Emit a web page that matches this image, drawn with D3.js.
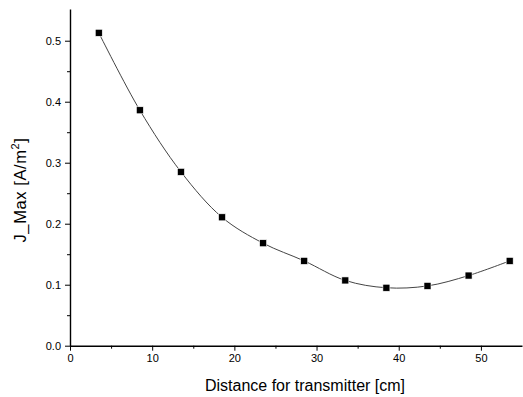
<!DOCTYPE html>
<html lang="en">
  <head>
    <meta charset="utf-8">
    <title>J_Max vs distance</title>
    <style>
      body { margin: 0; background: #fff; }
      svg { display: block; font-family: "Liberation Sans", Arial, sans-serif; }
    </style>
  </head>
  <body>
    <svg width="523" height="397"></svg>
    <script src="https://d3js.org/d3.v7.min.js"></script>
    <script>
      // values
      const distance = [3.5, 8.5, 13.5, 18.5, 23.5, 28.5, 33.5, 38.5, 43.5, 48.5, 53.5];
      const jMax = [0.513, 0.386, 0.285, 0.2105, 0.168, 0.139, 0.107, 0.095, 0.098, 0.115, 0.139];
      const xTicks = [0, 10, 20, 30, 40, 50];
      const yTicks = [0.0, 0.1, 0.2, 0.3, 0.4, 0.5];

      const points = distance.map((d, i) => ({ x: d, y: jMax[i] }));

      const svg = d3.select("svg");
      const x = d3.scaleLinear().domain([0, 55]).range([70, 522]);
      const y = d3.scaleLinear().domain([0, 0.552]).range([345.7, 9]);

      // x axis
      const xAxis = svg.append("g").attr("transform", "translate(0,345.7)");
      xAxis.append("g")
          .call(d3.axisBottom(x).tickValues(d3.range(5, 55, 10)).tickSize(3).tickFormat(""))
          .call(g => g.select(".domain").remove());
      xAxis.append("g")
          .call(d3.axisBottom(x).tickValues(xTicks).tickSize(5).tickSizeOuter(0).tickPadding(4).tickFormat(d3.format("d")))
          .call(g => g.select(".domain").attr("stroke-width", 1.4))
          .call(g => g.selectAll("text").attr("font-size", 11).attr("fill", "#000").attr("font-family", "Liberation Sans, Arial, sans-serif"));

      // y axis
      const yAxis = svg.append("g").attr("transform", "translate(70,0)");
      yAxis.append("g")
          .call(d3.axisLeft(y).tickValues(d3.range(0.05, 0.55, 0.1)).tickSize(3).tickFormat(""))
          .call(g => g.select(".domain").remove());
      yAxis.append("g")
          .call(d3.axisLeft(y).tickValues(yTicks).tickSize(5).tickSizeOuter(0).tickPadding(4).tickFormat(d3.format(".1f")))
          .call(g => g.select(".domain").attr("stroke-width", 1.4))
          .call(g => g.selectAll("text").attr("font-size", 11).attr("fill", "#000").attr("font-family", "Liberation Sans, Arial, sans-serif"));

      // axis titles
      svg.append("text")
          .attr("x", 305)
          .attr("y", 391)
          .attr("text-anchor", "middle")
          .attr("font-size", 16)
          .text("Distance for transmitter [cm]");

      const yTitle = svg.append("text")
          .attr("transform", "translate(26,190) rotate(-90)")
          .attr("text-anchor", "middle")
          .attr("font-size", 16.5)
          .attr("letter-spacing", 0.6);
      yTitle.append("tspan").text("J_Max [A/m");
      yTitle.append("tspan").attr("font-size", 11).attr("dy", -7).text("2");
      yTitle.append("tspan").attr("dy", 7).text("]");

      // smooth line
      const line = d3.line()
          .x(d => x(d.x))
          .y(d => y(d.y))
          .curve(d3.curveCatmullRom);

      svg.append("path")
          .datum(points)
          .attr("fill", "none")
          .attr("stroke", "#444")
          .attr("stroke-width", 1)
          .attr("d", line);

      // markers
      svg.append("g")
        .selectAll("rect")
        .data(points)
        .join("rect")
          .attr("x", d => x(d.x) - 3.5)
          .attr("y", d => y(d.y) - 3.5)
          .attr("width", 7)
          .attr("height", 7)
          .attr("fill", "#000")
          .attr("stroke", "#fff")
          .attr("stroke-width", 0.6);
    </script>
  </body>
</html>
